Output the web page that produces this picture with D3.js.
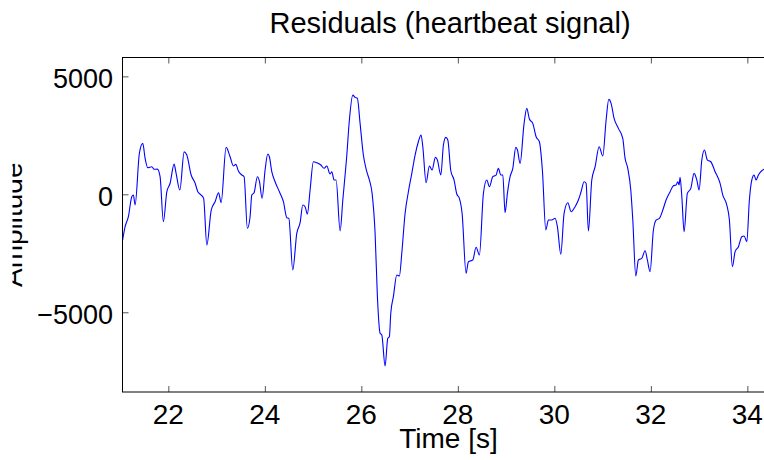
<!DOCTYPE html>
<html>
<head>
<meta charset="utf-8">
<script src="https://cdn.jsdelivr.net/npm/d3@7"></script>
<style>
    body { margin: 0; background: #fff; }
    .text { font-family: "Liberation Sans", Arial, Helvetica, sans-serif; fill: #000; }
</style>
</head>
<body>
<div id="chart"></div>
<script>
// Residual samples (time in s, amplitude)
const time = [
    21.052, 21.104, 21.172, 21.242, 21.276, 21.311, 21.400, 21.470, 21.518, 21.574,
    21.657, 21.705, 21.773, 21.829, 21.897, 21.969, 22.037, 22.119, 22.161, 22.238,
    22.328, 22.383, 22.473, 22.556, 22.611, 22.680, 22.731, 22.798, 22.889, 22.969,
    23.041, 23.094, 23.197, 23.280, 23.348, 23.398, 23.452, 23.522, 23.570, 23.638,
    23.694, 23.730, 23.777, 23.846, 23.887, 23.943, 24.005, 24.061, 24.094, 24.144,
    24.212, 24.302, 24.385, 24.455, 24.497, 24.579, 24.662, 24.731, 24.787, 24.834,
    24.882, 24.938, 25.006, 25.077, 25.160, 25.228, 25.284, 25.352, 25.388, 25.435,
    25.477, 25.560, 25.616, 25.699, 25.752, 25.823, 25.870, 25.918, 25.974, 26.042,
    26.113, 26.167, 26.223, 26.285, 26.333, 26.389, 26.424, 26.492, 26.548, 26.581,
    26.610, 26.664, 26.735, 26.789, 26.838, 26.907, 26.975, 27.046, 27.114, 27.182,
    27.238, 27.274, 27.342, 27.410, 27.466, 27.535, 27.576, 27.647, 27.701, 27.750,
    27.792, 27.854, 27.922, 27.978, 28.032, 28.088, 28.171, 28.219, 28.310, 28.378,
    28.447, 28.530, 28.600, 28.654, 28.724, 28.793, 28.840, 28.890, 28.932, 28.979,
    29.027, 29.083, 29.139, 29.201, 29.235, 29.290, 29.373, 29.429, 29.483, 29.553,
    29.622, 29.690, 29.752, 29.823, 29.877, 29.947, 30.016, 30.063, 30.134, 30.202,
    30.279, 30.347, 30.430, 30.498, 30.554, 30.617, 30.658, 30.706, 30.776, 30.845,
    30.928, 31.004, 31.073, 31.128, 31.176, 31.238, 31.327, 31.418, 31.466, 31.522,
    31.584, 31.626, 31.688, 31.742, 31.812, 31.881, 31.928, 31.984, 32.053, 32.109,
    32.177, 32.248, 32.316, 32.399, 32.468, 32.523, 32.559, 32.585, 32.606, 32.642,
    32.689, 32.757, 32.828, 32.896, 32.953, 33.000, 33.056, 33.110, 33.172, 33.243,
    33.332, 33.435, 33.491, 33.574, 33.628, 33.690, 33.746, 33.815, 33.885, 33.933,
    33.989, 34.042, 34.092, 34.140, 34.181, 34.229, 34.299, 34.347, 34.420
];
const amplitude = [
    -1940, -1370, -950, -100, -30, -450, 1740, 2160, 1530, 1130,
    1170, 1060, 1070, 750, -1160, 110, 470, 1280, 890, 180,
    1800, 1665, 820, 470, 110, -30, -170, -2150, -665, -314,
    68, -356, 1990, 1593, 1199, 1271, 987, 818, 746, -1441,
    -949, -30, 68, 746, 564, -169, 1030, 1708, 1593, 958,
    534, 110, -314, -991, -1017, -3207, -1652, -1203, -453, -525,
    -835, 182, 1381, 1339, 1241, 1102, 1199, 860, 958, 606,
    606, -1555, -242, 1665, 3148, 4207, 4110, 4068, 3008, 1665,
    958, 606, 42, -1652, -4339, -5889, -5961, -7275, -6101, -6033,
    -5042, -4339, -3419, -3462, -2500, -805, 110, 890, 1665, 2229,
    2513, 2017, 491, 1199, 1030, 1568, 1453, 818, 2089, 2415,
    2301, 1000, 606, 13, -169, -805, -3347, -2856, -2784, -2246,
    -2572, 42, 606, 322, 746, 818, 1102, 818, 818, -780,
    42, 746, 1102, 1991, 1877, 1313, 3008, 3644, 3190, 3008,
    2441, 2229, 1030, -1513, -1089, -1089, -1017, -1373, -2542, -805,
    -356, -737, -525, -242, 110, 534, 466, -1555, 606, 1169,
    2017, 1623, 3148, 4025, 3856, 3220, 2796, 2373, 1525, 1102,
    182, -1089, -3462, -2784, -2712, -2390, -2784, -3279, -1513, -1089,
    -1017, -665, -242, 110, 364, 394, 534, 394, 720, -102,
    -1585, 42, 254, 890, 606, 182, 1453, 1877, 1453, 1381,
    958, 466, -30, -453, -1089, -3068, -2432, -2220, -1796, -1767,
    -2008, -242, 606, 818, 606, 818, 1000, 1059, 1120
];

// Axis ticks
const xTicks = [22, 24, 26, 28, 30, 32, 34];
const yTicks = [-5000, 0, 5000];

const data = time.map((t, i) => ({ t: t, v: amplitude[i] }));

// Dimensions (the axes box runs past the right edge of the picture)
const dimensions = {
    width: 764,
    height: 460,
    left: 122.5,
    right: 776.3,
    top: 57.5,
    bottom: 392,
};

const svg = d3.select("#chart")
    .append("svg")
    .attr("width", dimensions.width)
    .attr("height", dimensions.height);

const x = d3.scaleLinear()
    .domain([21.05, 34.6])
    .range([dimensions.left, dimensions.right]);

const y = d3.scaleLinear()
    .domain([-8380, 5800])
    .range([dimensions.bottom, dimensions.top]);

// Clip for the plot area
svg.append("clipPath")
    .attr("id", "plot-clip")
    .append("rect")
    .attr("x", dimensions.left)
    .attr("y", dimensions.top)
    .attr("width", dimensions.right - dimensions.left)
    .attr("height", dimensions.bottom - dimensions.top);

// Residual line
const line = d3.line()
    .x(d => x(d.t))
    .y(d => y(d.v))
    .curve(d3.curveMonotoneX);

svg.append("path")
    .datum(data)
    .attr("clip-path", "url(#plot-clip)")
    .attr("d", line)
    .attr("fill", "none")
    .attr("stroke", "#0000ff")
    .attr("stroke-width", 1.1);

// Inward ticks on bottom, top and left
const tickLen = 6;
const tickColor = "#555";

svg.append("g")
    .attr("transform", `translate(0, ${dimensions.bottom})`)
    .call(d3.axisBottom(x).tickValues(xTicks).tickSize(-tickLen).tickFormat(""))
    .call(g => g.select(".domain").remove())
    .call(g => g.selectAll(".tick line").attr("stroke", tickColor));

svg.append("g")
    .attr("transform", `translate(0, ${dimensions.top})`)
    .call(d3.axisTop(x).tickValues(xTicks).tickSize(-tickLen).tickFormat(""))
    .call(g => g.select(".domain").remove())
    .call(g => g.selectAll(".tick line").attr("stroke", tickColor));

svg.append("g")
    .attr("transform", `translate(${dimensions.left}, 0)`)
    .call(d3.axisLeft(y).tickValues(yTicks).tickSize(-tickLen).tickFormat(""))
    .call(g => g.select(".domain").remove())
    .call(g => g.selectAll(".tick line").attr("stroke", tickColor));

// Axes box
svg.append("rect")
    .attr("x", dimensions.left)
    .attr("y", dimensions.top)
    .attr("width", dimensions.right - dimensions.left)
    .attr("height", dimensions.bottom - dimensions.top)
    .attr("fill", "none")
    .attr("stroke", "#000")
    .attr("stroke-width", 1);

// Tick labels
svg.selectAll(".x-label")
    .data(xTicks)
    .enter().append("text")
    .attr("class", "text")
    .attr("x", d => x(d))
    .attr("y", dimensions.bottom + 32)
    .attr("text-anchor", "middle")
    .style("font-size", "28px")
    .text(d => d);

svg.selectAll(".y-label")
    .data(yTicks)
    .enter().append("text")
    .attr("class", "text")
    .attr("x", dimensions.left - 9.5)
    .attr("y", d => y(d) + 11.5)
    .attr("text-anchor", "end")
    .style("font-size", "27px")
    .text(d => d < 0 ? "\u2212" + Math.abs(d) : d);

// Title
svg.append("text")
    .attr("class", "text")
    .attr("x", 450)
    .attr("y", 33)
    .attr("text-anchor", "middle")
    .style("font-size", "29px")
    .text("Residuals (heartbeat signal)");

// X axis label
svg.append("text")
    .attr("class", "text")
    .attr("x", 448.5)
    .attr("y", 447.5)
    .attr("text-anchor", "middle")
    .style("font-size", "28px")
    .text("Time [s]");

// Y axis label, clipped on its left side as in the source figure
svg.append("clipPath")
    .attr("id", "ylabel-clip")
    .append("rect")
    .attr("x", 12.5)
    .attr("y", 0)
    .attr("width", 100)
    .attr("height", dimensions.height);

svg.append("g")
    .attr("clip-path", "url(#ylabel-clip)")
    .append("text")
    .attr("class", "text")
    .attr("transform", `translate(21.5, ${(dimensions.top + dimensions.bottom) / 2}) rotate(-90)`)
    .attr("text-anchor", "middle")
    .style("font-size", "28px")
    .text("Amplitude");
</script>
</body>
</html>
